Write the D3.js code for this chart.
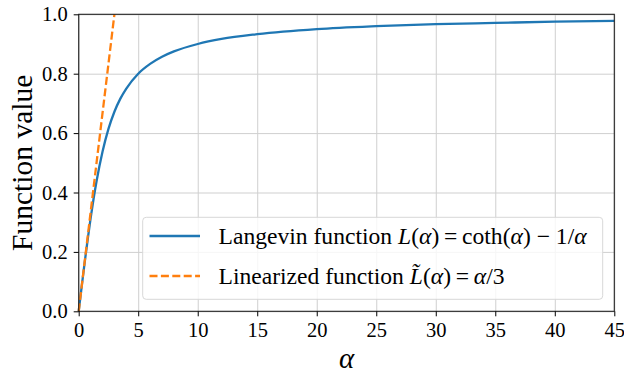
<!DOCTYPE html>
<html>
<head>
<meta charset="utf-8">
<script src="https://cdn.jsdelivr.net/npm/d3@7"></script>
<style>
  body { margin: 0; background: #fff; }
</style>
</head>
<body>
<svg width="624" height="374"></svg>
<script>
// values
const alphaValues = [0, 0.25, 0.5, 0.75, 1, 1.25, 1.5, 2, 2.5, 3, 3.5, 4, 5, 6, 7, 8, 10, 12, 15, 20, 25, 30, 35, 40, 45];
const langevinValues = [0, 0.083, 0.164, 0.240, 0.313, 0.379, 0.438, 0.537, 0.614, 0.672, 0.716, 0.750, 0.800, 0.833, 0.857, 0.875, 0.900, 0.917, 0.933, 0.950, 0.960, 0.967, 0.971, 0.975, 0.978];
const linearAlpha = [0, 3];
const linearValues = [0, 1];
const xTicks = [0, 5, 10, 15, 20, 25, 30, 35, 40, 45];
const yTicks = [0.0, 0.2, 0.4, 0.6, 0.8, 1.0];

const serif = '"Liberation Serif", "Times New Roman", serif';

const svg = d3.select('svg');
const margin = {top: 14.3, right: 9.7, bottom: 62.7, left: 78.7};
const width = +svg.attr('width');
const height = +svg.attr('height');
const innerWidth = width - margin.left - margin.right;
const innerHeight = height - margin.top - margin.bottom;

const xScale = d3.scaleLinear().domain([0, 45]).range([0, innerWidth]);
const yScale = d3.scaleLinear().domain([0, 1]).range([innerHeight, 0]);

const g = svg.append('g')
    .attr('transform', `translate(${margin.left},${margin.top})`);

// grid
g.append('g')
    .call(d3.axisBottom(xScale).tickValues(xTicks).tickSize(innerHeight).tickFormat(''))
    .call(a => a.select('.domain').remove())
    .selectAll('line').attr('stroke', '#cfcfcf').attr('stroke-width', 1);
g.append('g')
    .call(d3.axisLeft(yScale).tickValues(yTicks).tickSize(-innerWidth).tickFormat(''))
    .call(a => a.select('.domain').remove())
    .selectAll('line').attr('stroke', '#cfcfcf').attr('stroke-width', 1);

// lines
const langevin = alphaValues.map((a, i) => [a, langevinValues[i]]);
const linear = linearAlpha.map((a, i) => [a, linearValues[i]]);
const line = d3.line().x(d => xScale(d[0])).y(d => yScale(d[1])).curve(d3.curveMonotoneX);

g.append('path').datum(langevin)
    .attr('d', line).attr('fill', 'none')
    .attr('stroke', '#1f77b4').attr('stroke-width', 2.3);
g.append('path').datum(linear)
    .attr('d', d3.line().x(d => xScale(d[0])).y(d => yScale(d[1])))
    .attr('fill', 'none')
    .attr('stroke', '#ff7f0e').attr('stroke-width', 2.3)
    .attr('stroke-dasharray', '8,3.4');

// frame
g.append('rect')
    .attr('width', innerWidth).attr('height', innerHeight)
    .attr('fill', 'none').attr('stroke', '#222').attr('stroke-width', 1.1);

// axes
const xAxisG = g.append('g')
    .attr('transform', `translate(0,${innerHeight})`)
    .call(d3.axisBottom(xScale).tickValues(xTicks).tickSize(5).tickPadding(6).tickFormat(d3.format('d')));
const yAxisG = g.append('g')
    .call(d3.axisLeft(yScale).tickValues(yTicks).tickSize(5).tickPadding(6).tickFormat(d3.format('.1f')));
[xAxisG, yAxisG].forEach(a => {
    a.select('.domain').remove();
    a.attr('font-family', serif).attr('font-size', 20.5);
    a.selectAll('text')
        .style('font-family', serif)
        .style('font-size', '20.5px')
        .attr('fill', '#000');
    a.selectAll('line').attr('stroke', '#000');
});

// axis labels
svg.append('text')
    .attr('transform', `translate(31.5,${margin.top + innerHeight / 2}) rotate(-90)`)
    .attr('text-anchor', 'middle')
    .style('font-family', serif)
    .style('font-size', '29.5px')
    .text('Function value');
svg.append('text')
    .attr('x', margin.left + innerWidth / 2)
    .attr('y', 368)
    .attr('text-anchor', 'middle')
    .style('font-family', serif)
    .style('font-size', '29px')
    .style('font-style', 'italic')
    .text('α');

// legend
const legend = svg.append('g');
legend.append('rect')
    .attr('x', 142.7).attr('y', 217.3)
    .attr('width', 460).attr('height', 82)
    .attr('rx', 3.5)
    .attr('fill', 'rgba(255,255,255,0.8)')
    .attr('stroke', '#d8d8d8');

const rows = [
    {color: '#1f77b4', dash: null, y: 236,
     parts: [['Langevin function ', false], ['L', true], ['(', false], ['α', true], [')', false],
             ['\u2009=\u2009', false], ['coth(', false], ['α', true], [')\u2005\u2212\u20051/', false], ['α', true]]},
    {color: '#ff7f0e', dash: '8,3.4', y: 276,
     parts: [['Linearized function ', false], ['L\u0303', true], ['(', false], ['α', true], [')', false],
             ['\u2009=\u2009', false], ['α', true], ['/3', false]]}
];

rows.forEach(r => {
    legend.append('line')
        .attr('x1', 149.5).attr('x2', 200)
        .attr('y1', r.y).attr('y2', r.y)
        .attr('stroke', r.color).attr('stroke-width', 2.3)
        .attr('stroke-dasharray', r.dash);
    const t = legend.append('text')
        .attr('x', 218.5).attr('y', r.y + 7.5)
        .style('font-family', serif)
        .style('font-size', '23.6px');
    r.parts.forEach(p => {
        t.append('tspan').style('font-style', p[1] ? 'italic' : 'normal').text(p[0]);
    });
});
</script>
</body>
</html>
